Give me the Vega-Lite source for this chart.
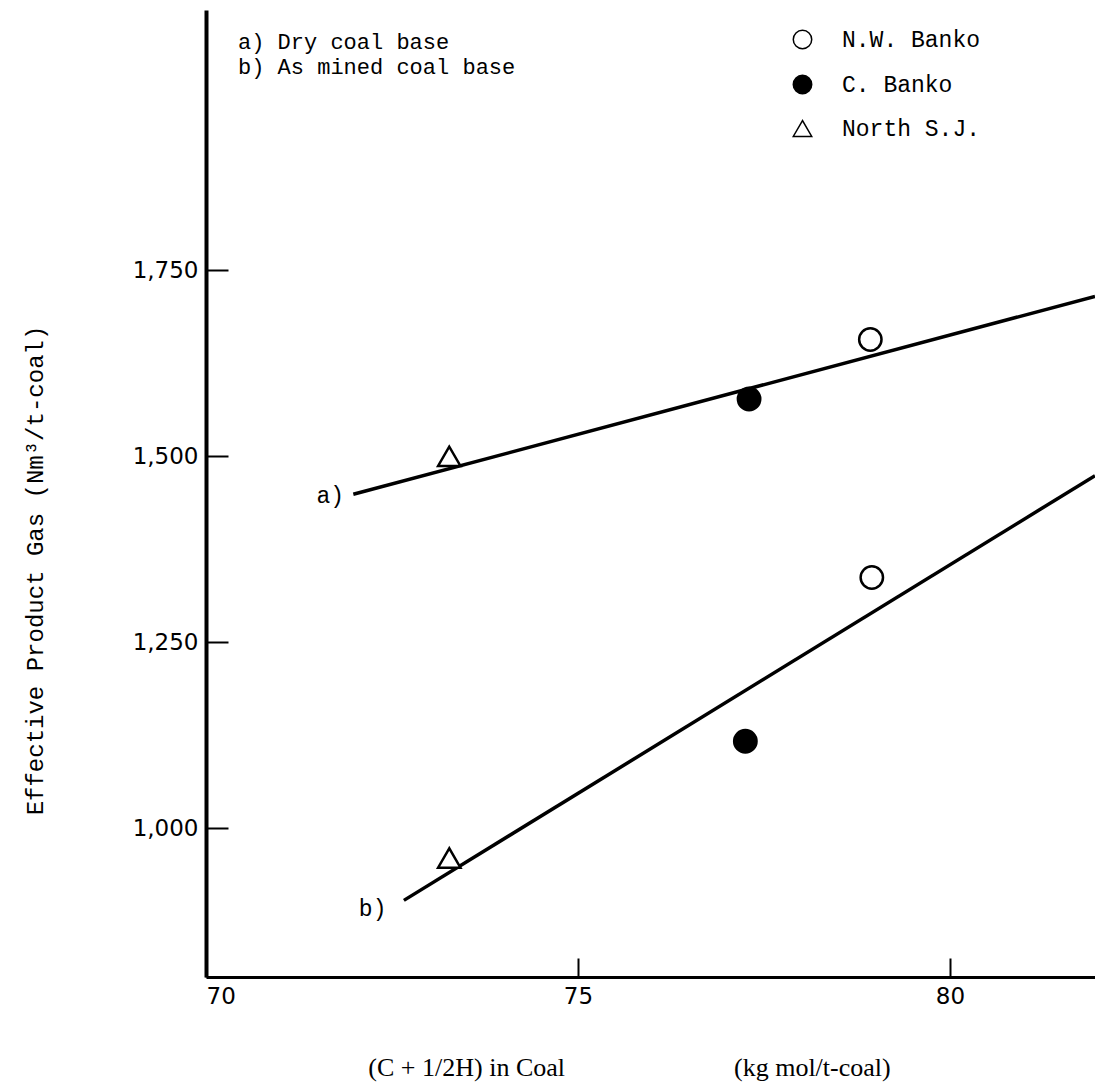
{
  "$schema": "https://vega.github.io/schema/vega-lite/v6.json",
  "width": 889,
  "height": 967,
  "autosize": {"type": "none"},
  "padding": {"left": 206, "top": 10, "right": 0, "bottom": 113},
  "background": "white",
  "config": {"view": {"stroke": null}},
  "datasets": {
    "points": [
      {"case": "a", "site": "N.W. Banko", "x": 78.93, "y": 1657},
      {"case": "a", "site": "C. Banko", "x": 77.3, "y": 1577},
      {"case": "a", "site": "North S.J.", "x": 73.27, "y": 1500},
      {"case": "b", "site": "N.W. Banko", "x": 78.95, "y": 1337},
      {"case": "b", "site": "C. Banko", "x": 77.25, "y": 1117},
      {"case": "b", "site": "North S.J.", "x": 73.27, "y": 960}
    ],
    "lines": [
      {"line": "a", "x": 71.98, "y": 1449},
      {"line": "a", "x": 81.95, "y": 1715},
      {"line": "b", "x": 72.66, "y": 903},
      {"line": "b", "x": 81.95, "y": 1474}
    ],
    "linelabels": [
      {"label": "a)", "x": 71.67, "y": 1446},
      {"label": "b)", "x": 72.24, "y": 892}
    ],
    "notes": [
      {"label": "a)  Dry coal base", "x": 70.43, "y": 2057},
      {"label": "b)  As mined coal base", "x": 70.43, "y": 2023}
    ]
  },
  "layer": [
    {
      "data": {"name": "lines"},
      "mark": {"type": "line", "color": "black", "strokeWidth": 3.5, "clip": true},
      "encoding": {
        "x": {
          "field": "x", "type": "quantitative",
          "scale": {"domain": [70, 81.95], "nice": false, "zero": false},
          "axis": {
            "values": [70, 75, 80],
            "format": "d",
            "domainColor": "black", "domainWidth": 3,
            "tickColor": "black", "tickWidth": 2, "tickSize": -19,
            "labelFont": "DejaVu Sans", "labelFontSize": 23, "labelColor": "black",
            "labelPadding": 27,
            "grid": false,
            "title": "(C + 1/2H) in Coal\u00a0\u00a0\u00a0\u00a0\u00a0\u00a0\u00a0\u00a0\u00a0\u00a0\u00a0\u00a0\u00a0\u00a0\u00a0\u00a0\u00a0\u00a0\u00a0\u00a0\u00a0\u00a0\u00a0\u00a0\u00a0\u00a0(kg mol/t-coal)",
            "titleFont": "Liberation Serif", "titleFontSize": 26, "titleFontWeight": "normal",
            "titleColor": "black", "titleX": 423, "titleY": 90, "titleAlign": "center", "titleBaseline": "middle"
          }
        },
        "y": {
          "field": "y", "type": "quantitative",
          "scale": {"domain": [800, 2100], "nice": false, "zero": false},
          "axis": {
            "values": [1000, 1250, 1500, 1750],
            "format": ",d",
            "domainColor": "black", "domainWidth": 4,
            "tickColor": "black", "tickWidth": 2, "tickSize": -22,
            "labelFont": "DejaVu Sans", "labelFontSize": 23, "labelColor": "black",
            "labelPadding": 30,
            "grid": false,
            "title": "Effective Product Gas (Nm³/t-coal)",
            "titleFont": "Liberation Mono", "titleFontSize": 24, "titleFontWeight": "normal",
            "titleColor": "black", "titleX": -171, "titleY": 560, "titleAlign": "center", "titleBaseline": "middle"
          }
        },
        "detail": {"field": "line", "type": "nominal"}
      }
    },
    {
      "data": {"name": "points"},
      "mark": {"type": "point", "filled": true, "stroke": "black", "strokeWidth": 2.5, "size": 500, "opacity": 1},
      "encoding": {
        "x": {"field": "x", "type": "quantitative"},
        "y": {"field": "y", "type": "quantitative"},
        "shape": {
          "field": "site", "type": "nominal",
          "scale": {"domain": ["N.W. Banko", "C. Banko", "North S.J."], "range": ["circle", "circle", "triangle-up"]},
          "legend": {
            "title": null, "orient": "none", "legendX": 585, "legendY": 18,
            "labelFont": "Liberation Mono", "labelFontSize": 23, "labelColor": "black",
            "symbolSize": 340, "rowPadding": 20, "labelOffset": 28,
            "encode": {"symbols": {"update": {"stroke": {"value": "black"}, "strokeWidth": {"value": 2}}}}
          }
        },
        "fill": {
          "field": "site", "type": "nominal",
          "scale": {"domain": ["N.W. Banko", "C. Banko", "North S.J."], "range": ["white", "black", "white"]},
          "legend": {
            "title": null, "orient": "none", "legendX": 585, "legendY": 18,
            "labelFont": "Liberation Mono", "labelFontSize": 23, "labelColor": "black",
            "symbolSize": 340, "rowPadding": 20, "labelOffset": 28,
            "encode": {"symbols": {"update": {"stroke": {"value": "black"}, "strokeWidth": {"value": 2}}}}
          }
        }
      }
    },
    {
      "data": {"name": "linelabels"},
      "mark": {"type": "text", "font": "Liberation Mono", "fontSize": 23, "color": "black", "align": "center", "baseline": "middle"},
      "encoding": {
        "x": {"field": "x", "type": "quantitative"},
        "y": {"field": "y", "type": "quantitative"},
        "text": {"field": "label"}
      }
    },
    {
      "data": {"name": "notes"},
      "mark": {"type": "text", "font": "Liberation Mono", "fontSize": 22, "color": "black", "align": "left", "baseline": "middle"},
      "encoding": {
        "x": {"field": "x", "type": "quantitative"},
        "y": {"field": "y", "type": "quantitative"},
        "text": {"field": "label"}
      }
    },
    {
      "mark": {"type": "rule", "color": "black", "strokeWidth": 2},
      "encoding": {"y": {"datum": 2100}}
    }
  ]
}
